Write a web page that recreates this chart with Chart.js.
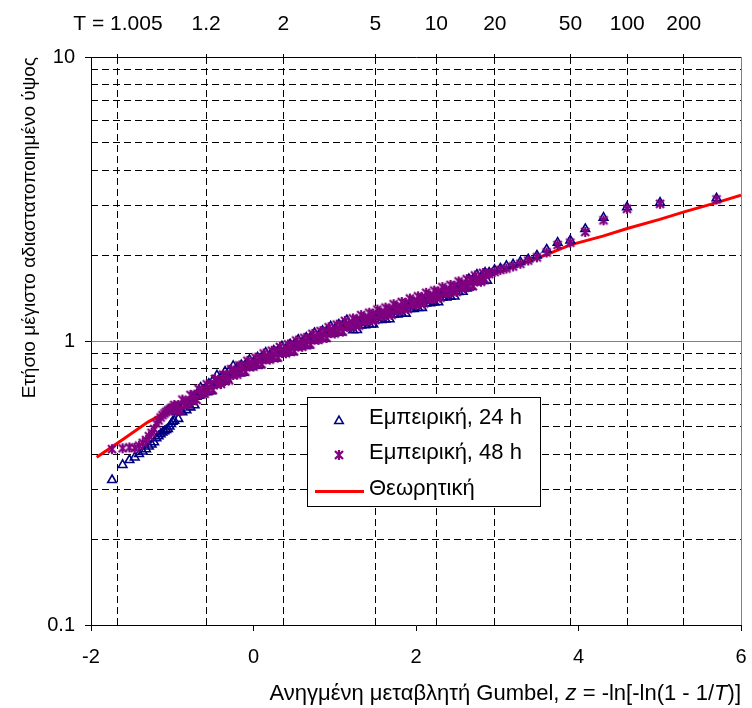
<!DOCTYPE html>
<html>
<head>
<meta charset="utf-8">
<script src="https://cdn.jsdelivr.net/npm/chart.js@4.4.0/dist/chart.umd.min.js"></script>
<style>
  html, body { margin: 0; padding: 0; background: #fff; }
</style>
</head>
<body>
<canvas id="gumbelChart" width="752" height="708"></canvas>
<script>
const FONT = "'Liberation Sans', Arial, sans-serif";

// Reduced Gumbel variate of each plotted sample (shared by both durations)
const zPos = [
  -1.741, -1.611, -1.527, -1.462, -1.409, -1.363, -1.323, -1.287, -1.254, -1.223,
  -1.195, -1.168, -1.143, -1.119, -1.096, -1.074, -1.053, -1.033, -1.014, -0.995,
  -0.975, -0.950, -0.925, -0.900, -0.875, -0.850, -0.825, -0.800, -0.775, -0.750,
  -0.725, -0.700, -0.675, -0.650, -0.625, -0.600, -0.575, -0.550, -0.525, -0.500,
  -0.475, -0.450, -0.425, -0.400, -0.375, -0.350, -0.325, -0.300, -0.275, -0.250,
  -0.225, -0.200, -0.175, -0.150, -0.125, -0.100, -0.075, -0.050, -0.025, 0.000,
  0.025, 0.050, 0.075, 0.100, 0.125, 0.150, 0.175, 0.200, 0.225, 0.250,
  0.275, 0.300, 0.325, 0.350, 0.375, 0.400, 0.425, 0.450, 0.475, 0.500,
  0.525, 0.550, 0.575, 0.600, 0.625, 0.650, 0.675, 0.700, 0.725, 0.750,
  0.775, 0.800, 0.825, 0.850, 0.875, 0.900, 0.925, 0.950, 0.975, 1.000,
  1.025, 1.050, 1.075, 1.100, 1.125, 1.150, 1.175, 1.200, 1.225, 1.250,
  1.275, 1.300, 1.325, 1.350, 1.375, 1.400, 1.425, 1.450, 1.475, 1.500,
  1.525, 1.550, 1.575, 1.600, 1.625, 1.650, 1.675, 1.700, 1.725, 1.750,
  1.775, 1.800, 1.825, 1.850, 1.875, 1.900, 1.925, 1.950, 1.975, 2.000,
  2.025, 2.050, 2.075, 2.100, 2.125, 2.150, 2.175, 2.200, 2.225, 2.250,
  2.275, 2.300, 2.325, 2.350, 2.375, 2.400, 2.425, 2.450, 2.475, 2.500,
  2.525, 2.550, 2.575, 2.600, 2.625, 2.650, 2.675, 2.700, 2.725, 2.750,
  2.775, 2.800, 2.825, 2.850, 2.875,
  2.900, 2.967, 3.038, 3.113, 3.195, 3.284, 3.381, 3.488, 3.608, 3.743,
  3.899, 4.083, 4.308, 4.597, 5.004, 5.699
];

// Standardised annual maxima, 24 h
const y24 = [
  0.324, 0.366, 0.381, 0.389, 0.400, 0.408, 0.416, 0.425, 0.432, 0.440,
  0.455, 0.462, 0.470, 0.476, 0.481, 0.486, 0.490, 0.500, 0.510, 0.520,
  0.524, 0.563, 0.532, 0.570, 0.561, 0.600, 0.571, 0.596, 0.584, 0.628,
  0.594, 0.636, 0.642, 0.685, 0.649, 0.676, 0.660, 0.707, 0.665, 0.725,
  0.710, 0.757, 0.717, 0.747, 0.728, 0.780, 0.734, 0.784, 0.767, 0.817,
  0.774, 0.805, 0.768, 0.823, 0.774, 0.825, 0.807, 0.858, 0.811, 0.842,
  0.819, 0.876, 0.822, 0.875, 0.856, 0.910, 0.859, 0.891, 0.866, 0.925,
  0.868, 0.924, 0.902, 0.958, 0.904, 0.938, 0.912, 0.974, 0.914, 0.972,
  0.951, 1.010, 0.954, 0.989, 0.961, 1.028, 0.965, 1.027, 1.004, 1.067,
  1.007, 1.045, 1.016, 1.086, 1.019, 1.084, 1.059, 1.125, 1.062, 1.101,
  1.070, 1.143, 1.072, 1.141, 1.115, 1.185, 1.117, 1.124, 1.091, 1.166,
  1.093, 1.162, 1.134, 1.204, 1.136, 1.178, 1.143, 1.220, 1.143, 1.215,
  1.185, 1.257, 1.185, 1.227, 1.192, 1.273, 1.193, 1.268, 1.238, 1.315,
  1.240, 1.284, 1.247, 1.332, 1.249, 1.329, 1.296, 1.376, 1.298, 1.346,
  1.306, 1.395, 1.308, 1.391, 1.357, 1.441, 1.359, 1.409, 1.368, 1.461,
  1.370, 1.457, 1.421, 1.510, 1.424, 1.476, 1.433, 1.531, 1.435, 1.527,
  1.489, 1.581, 1.491, 1.561, 1.532, 1.653, 1.551, 1.650, 1.611, 1.712,
  1.616, 1.675, 1.628, 1.740, 1.632,
  1.74, 1.78, 1.80, 1.84, 1.86, 1.90, 1.94, 2.00, 2.10, 2.22,
  2.26, 2.48, 2.72, 2.96, 3.07, 3.18
];

// Standardised annual maxima, 48 h
const y48 = [
  0.416, 0.419, 0.422, 0.420, 0.428, 0.438, 0.448, 0.462, 0.475, 0.490,
  0.512, 0.525, 0.538, 0.548, 0.556, 0.563, 0.569, 0.574, 0.579, 0.584,
  0.595, 0.566, 0.595, 0.568, 0.622, 0.595, 0.614, 0.598, 0.646, 0.615,
  0.648, 0.620, 0.678, 0.649, 0.669, 0.653, 0.704, 0.669, 0.703, 0.672,
  0.735, 0.703, 0.725, 0.706, 0.761, 0.723, 0.761, 0.727, 0.795, 0.759,
  0.782, 0.761, 0.820, 0.779, 0.818, 0.780, 0.852, 0.813, 0.836, 0.813,
  0.874, 0.829, 0.869, 0.828, 0.904, 0.862, 0.885, 0.860, 0.924, 0.876,
  0.918, 0.874, 0.953, 0.907, 0.932, 0.905, 0.973, 0.922, 0.966, 0.920,
  1.004, 0.956, 0.983, 0.954, 1.026, 0.973, 1.020, 0.972, 1.060, 1.011,
  1.038, 1.009, 1.084, 1.028, 1.077, 1.025, 1.118, 1.066, 1.094, 1.063,
  1.142, 1.082, 1.134, 1.079, 1.177, 1.122, 1.152, 1.118, 1.201, 1.138,
  1.192, 1.133, 1.234, 1.176, 1.207, 1.172, 1.258, 1.190, 1.246, 1.185,
  1.290, 1.227, 1.259, 1.221, 1.311, 1.242, 1.300, 1.236, 1.348, 1.283,
  1.318, 1.278, 1.372, 1.300, 1.361, 1.295, 1.411, 1.344, 1.379, 1.339,
  1.437, 1.361, 1.425, 1.356, 1.478, 1.408, 1.444, 1.402, 1.505, 1.425,
  1.493, 1.420, 1.548, 1.475, 1.514, 1.469, 1.576, 1.494, 1.564, 1.488,
  1.621, 1.543, 1.584, 1.537, 1.651, 1.565, 1.640, 1.561, 1.701, 1.621,
  1.665, 1.617, 1.737, 1.647, 1.726,
  1.72, 1.75, 1.78, 1.80, 1.83, 1.87, 1.92, 1.97, 2.05, 2.18,
  2.22, 2.42, 2.66, 2.92, 3.04, 3.15
];

// Fitted (theoretical) curve
const zTheory = [-1.93, -1.6, -1.3, -1.0, -0.5, 0, 0.5, 1.0, 1.5, 2.0, 2.5, 3.0, 3.6, 3.9, 4.3, 4.6, 5.0, 5.3, 5.7, 6.0];
const yTheory = [0.39, 0.452, 0.518, 0.578, 0.693, 0.832, 0.965, 1.10, 1.24, 1.385, 1.55, 1.74, 2.01, 2.18, 2.34, 2.49, 2.68, 2.85, 3.07, 3.26];

// Axis ticks
const zTicks = [-2, 0, 2, 4, 6];
const yTicks = [0.1, 1, 10];
const yMinorTicks = [0.2, 0.3, 0.4, 0.5, 0.6, 0.7, 0.8, 0.9, 2, 3, 4, 5, 6, 7, 8, 9];
const returnPeriods = [1.005, 1.2, 2, 5, 10, 20, 50, 100, 200];
const periodLabels = ['T = 1.005', '1.2', '2', '5', '10', '20', '50', '100', '200'];

const seriesLabels = ['Εμπειρική, 24 h', 'Εμπειρική, 48 h', 'Θεωρητική'];
const yTitle = 'Ετήσιο μέγιστο αδιαστατοποιημένο ύψος';
const xTitleParts = [
  { text: 'Ανηγμένη μεταβλητή Gumbel, ', italic: false },
  { text: 'z', italic: true },
  { text: ' = -ln[-ln(1 - 1/', italic: false },
  { text: 'T', italic: true },
  { text: ')]', italic: false }
];

// gumbel reduced variate for a return period
const periodPos = returnPeriods.map(T => -Math.log(-Math.log(1 - 1 / T)));

function asteriskMarker(size, color) {
  const c = document.createElement('canvas');
  c.width = size;
  c.height = size;
  const g = c.getContext('2d');
  const m = size / 2, r = size / 2 - 1;
  g.strokeStyle = color;
  g.lineWidth = 2.2;
  g.beginPath();
  g.moveTo(m, m - r); g.lineTo(m, m + r);
  g.moveTo(m - r * 0.8, m - r * 0.8); g.lineTo(m + r * 0.8, m + r * 0.8);
  g.moveTo(m + r * 0.8, m - r * 0.8); g.lineTo(m - r * 0.8, m + r * 0.8);
  g.stroke();
  return c;
}

const NAVY = '#000080';
const PURPLE = '#800080';
const RED = '#FF0000';
const star = asteriskMarker(12, PURPLE);

function drawTriangle(ctx, x, y, r) {
  ctx.beginPath();
  ctx.moveTo(x, y - r);
  ctx.lineTo(x + r * 0.866, y + r * 0.5);
  ctx.lineTo(x - r * 0.866, y + r * 0.5);
  ctx.closePath();
  ctx.stroke();
}

// legend box inside the plot
const legendBox = {
  id: 'legendBox',
  afterDatasetsDraw(chart) {
    const ctx = chart.ctx;
    const bx = 307.5, by = 397.5, bw = 233, bh = 109;
    ctx.save();
    ctx.fillStyle = '#fff';
    ctx.fillRect(bx, by, bw, bh);
    ctx.strokeStyle = '#000';
    ctx.lineWidth = 1;
    ctx.strokeRect(bx, by, bw, bh);

    ctx.strokeStyle = NAVY;
    ctx.lineWidth = 1.5;
    drawTriangle(ctx, 339, 421, 5);
    ctx.drawImage(star, 333, 449);
    ctx.strokeStyle = RED;
    ctx.lineWidth = 3;
    ctx.beginPath();
    ctx.moveTo(315, 491.5);
    ctx.lineTo(364, 491.5);
    ctx.stroke();

    ctx.fillStyle = '#000';
    ctx.font = '22px ' + FONT;
    ctx.textBaseline = 'middle';
    ctx.fillText(seriesLabels[0], 369, 418);
    ctx.fillText(seriesLabels[1], 369, 453);
    ctx.fillText(seriesLabels[2], 369, 489);
    ctx.restore();
  }
};

// x axis title with italic variables, right aligned to the plot
const xAxisTitle = {
  id: 'xAxisTitle',
  afterDraw(chart) {
    const { ctx, chartArea } = chart;
    ctx.save();
    ctx.fillStyle = '#000';
    ctx.textBaseline = 'middle';
    const widths = xTitleParts.map(p => {
      ctx.font = (p.italic ? 'italic ' : '') + '22px ' + FONT;
      return ctx.measureText(p.text).width;
    });
    let x = chartArea.right - widths.reduce((a, b) => a + b, 0);
    xTitleParts.forEach((p, i) => {
      ctx.font = (p.italic ? 'italic ' : '') + '22px ' + FONT;
      ctx.fillText(p.text, x, 694);
      x += widths[i];
    });
    ctx.restore();
  }
};

// right edge of the plot area
const plotFrame = {
  id: 'plotFrame',
  beforeDatasetsDraw(chart) {
    const { ctx, chartArea } = chart;
    ctx.save();
    ctx.strokeStyle = '#808080';
    ctx.lineWidth = 1;
    ctx.beginPath();
    ctx.moveTo(Math.round(chartArea.right) + 0.5, chartArea.top);
    ctx.lineTo(Math.round(chartArea.right) + 0.5, chartArea.bottom);
    ctx.stroke();
    ctx.restore();
  }
};

const tickFont = { family: FONT, size: 20 };

// keep label overhang from shrinking the plot area
function fixHorizontal(height) {
  return s => {
    s.height = height;
    s.paddingLeft = 0;
    s.paddingRight = 0;
  };
}

new Chart(document.getElementById('gumbelChart'), {
  type: 'scatter',
  data: {
    datasets: [
      {
        label: seriesLabels[1],
        data: zPos.map((z, i) => ({ x: z, y: y48[i] })),
        pointStyle: star,
        pointRadius: 6,
        order: 1
      },
      {
        label: seriesLabels[0],
        data: zPos.map((z, i) => ({ x: z, y: y24[i] })),
        pointStyle: 'triangle',
        pointRadius: 5,
        borderColor: NAVY,
        backgroundColor: 'rgba(0,0,0,0)',
        pointBorderWidth: 1.6,
        order: 2
      },
      {
        label: seriesLabels[2],
        data: zTheory.map((z, i) => ({ x: z, y: yTheory[i] })),
        showLine: true,
        borderColor: RED,
        borderWidth: 3,
        pointRadius: 0,
        tension: 0,
        order: 3
      }
    ]
  },
  options: {
    responsive: false,
    animation: false,
    layout: { padding: { left: 0, right: 11, top: 0, bottom: 0 } },
    plugins: {
      legend: { display: false },
      tooltip: { enabled: false }
    },
    scales: {
      x: {
        type: 'linear',
        position: 'bottom',
        min: -2,
        max: 6,
        afterBuildTicks: s => { s.ticks = zTicks.map(v => ({ value: v })); },
        afterFit: fixHorizontal(83),
        ticks: { font: tickFont, color: '#000', padding: 14, maxRotation: 0, autoSkip: false, callback: v => String(v) },
        grid: { drawOnChartArea: false, tickLength: 6, color: '#000' },
        border: { color: '#000', width: 1 }
      },
      xT: {
        type: 'linear',
        position: 'top',
        min: -2,
        max: 6,
        afterBuildTicks: s => { s.ticks = periodPos.map(v => ({ value: v })); },
        afterFit: fixHorizontal(57),
        ticks: { font: { family: FONT, size: 21 }, color: '#000', padding: 17, maxRotation: 0, autoSkip: false, callback: (v, i) => periodLabels[i] },
        grid: { color: '#000', tickLength: 3, tickColor: '#000' },
        border: { display: false, dash: [7, 4] }
      },
      y: {
        type: 'logarithmic',
        position: 'left',
        min: 0.1,
        max: 10,
        afterBuildTicks: s => { s.ticks = yTicks.map(v => ({ value: v })); },
        afterFit: s => { s.width = 91; s.paddingTop = 0; s.paddingBottom = 0; },
        ticks: { font: tickFont, color: '#000', padding: 10, autoSkip: false, callback: v => String(v) },
        grid: {
          tickLength: 6,
          tickColor: '#000',
          color: c => c.tick && c.tick.value === 1 ? '#808080' : (c.tick && c.tick.value === 10 ? '#000' : 'rgba(0,0,0,0)')
        },
        border: { color: '#000', width: 1 },
        title: { display: true, text: yTitle, align: 'end', color: '#000', font: { family: FONT, size: 19 }, padding: { top: 18, bottom: 0 } }
      },
      yMinor: {
        type: 'logarithmic',
        position: 'left',
        min: 0.1,
        max: 10,
        afterBuildTicks: s => { s.ticks = yMinorTicks.map(v => ({ value: v })); },
        afterFit: s => { s.width = 0; },
        ticks: { display: false },
        grid: { color: '#000', drawTicks: false },
        border: { display: false, dash: [7, 4] }
      }
    }
  },
  plugins: [plotFrame, legendBox, xAxisTitle]
});
</script>
</body>
</html>
